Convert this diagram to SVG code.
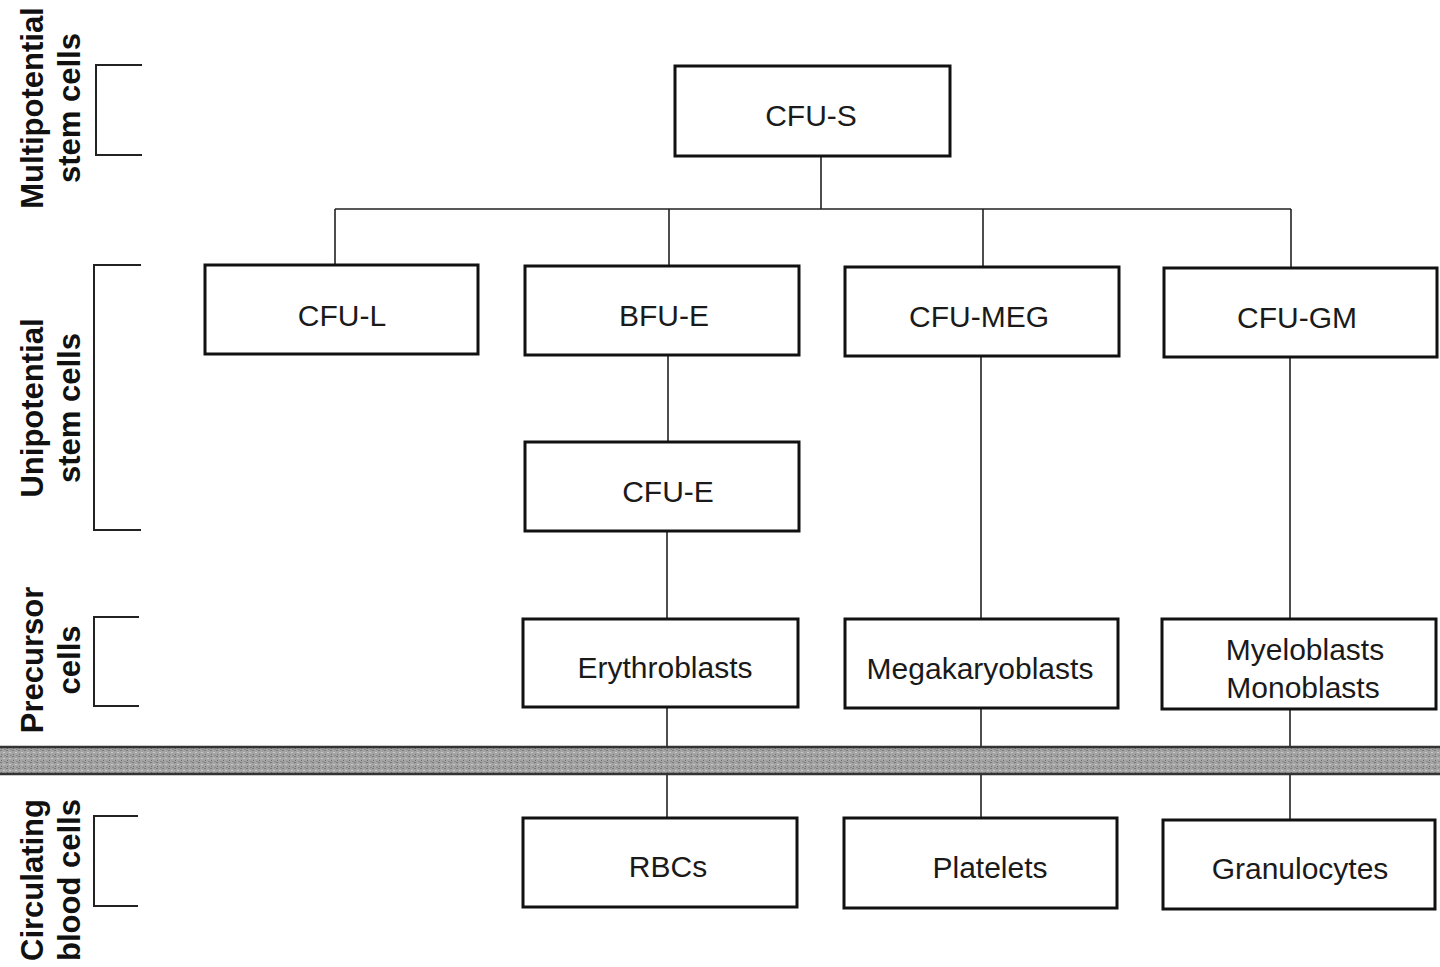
<svg xmlns="http://www.w3.org/2000/svg" width="1440" height="967" viewBox="0 0 1440 967">
<defs>
<pattern id="grain" width="6" height="6" patternUnits="userSpaceOnUse">
<rect width="6" height="6" fill="#a4a4a4"/>
<rect x="0" y="0" width="2" height="1" fill="#7a7a7a"/>
<rect x="3" y="2" width="2" height="1" fill="#c8c8c8"/>
<rect x="1" y="4" width="1" height="1" fill="#6e6e6e"/>
<rect x="4" y="5" width="2" height="1" fill="#8a8a8a"/>
</pattern>
</defs>
<style>
.box{fill:#fff;stroke:#111;stroke-width:3}
.lbl{font-family:"Liberation Sans",Arial,sans-serif;font-size:30px;fill:#1a1a1a;text-anchor:middle}
.side{font-family:"Liberation Sans",Arial,sans-serif;font-size:31px;font-weight:bold;fill:#111;text-anchor:middle}
.conn{fill:none;stroke:#222;stroke-width:1.6}
.brk{fill:none;stroke:#222;stroke-width:2}
</style>
<rect width="1440" height="967" fill="#fff"/>

<g id="connectors">
<path class="conn" d="M821 156V209M335 209H1291M335 209V265M669 209V266M983 209V267M1291 209V268"/>
<path class="conn" d="M668 355V442M667 531V619M667 707V818"/>
<path class="conn" d="M981 356V619M981 708V818"/>
<path class="conn" d="M1290 357V619M1290 709V820"/>
</g>

<g id="band">
<rect x="0" y="747" width="1440" height="27" fill="url(#grain)"/>
<line x1="0" y1="747" x2="1440" y2="747" stroke="#333" stroke-width="2.5"/>
<line x1="0" y1="774" x2="1440" y2="774" stroke="#333" stroke-width="2.5"/>
</g>

<g id="side-labels">
<g id="lbl-multi">
<text class="side" transform="translate(43 108) rotate(-90)">Multipotential</text>
<text class="side" transform="translate(80 108) rotate(-90)">stem cells</text>
<path class="brk" d="M142 65H96V155H142"/>
</g>
<g id="lbl-uni">
<text class="side" transform="translate(43 408) rotate(-90)">Unipotential</text>
<text class="side" transform="translate(80 408) rotate(-90)">stem cells</text>
<path class="brk" d="M141 265H94V530H141"/>
</g>
<g id="lbl-pre">
<text class="side" transform="translate(43 660) rotate(-90)">Precursor</text>
<text class="side" transform="translate(80 660) rotate(-90)">cells</text>
<path class="brk" d="M139 617H94V706H139"/>
</g>
<g id="lbl-circ">
<text class="side" transform="translate(43 880) rotate(-90)">Circulating</text>
<text class="side" transform="translate(80 880) rotate(-90)">blood cells</text>
<path class="brk" d="M138 816H94V906H138"/>
</g>
</g>

<g id="cfu-s"><rect class="box" x="675" y="66" width="275" height="90"/><text class="lbl" x="811" y="126">CFU-S</text></g>
<g id="cfu-l"><rect class="box" x="205" y="265" width="273" height="89"/><text class="lbl" x="342" y="326">CFU-L</text></g>
<g id="bfu-e"><rect class="box" x="525" y="266" width="274" height="89"/><text class="lbl" x="664" y="326">BFU-E</text></g>
<g id="cfu-meg"><rect class="box" x="845" y="267" width="274" height="89"/><text class="lbl" x="979" y="327">CFU-MEG</text></g>
<g id="cfu-gm"><rect class="box" x="1164" y="268" width="273" height="89"/><text class="lbl" x="1297" y="328">CFU-GM</text></g>
<g id="cfu-e"><rect class="box" x="525" y="442" width="274" height="89"/><text class="lbl" x="668" y="502">CFU-E</text></g>
<g id="erythroblasts"><rect class="box" x="523" y="619" width="275" height="88"/><text class="lbl" x="665" y="678">Erythroblasts</text></g>
<g id="megakaryoblasts"><rect class="box" x="845" y="619" width="273" height="89"/><text class="lbl" x="980" y="679">Megakaryoblasts</text></g>
<g id="myeloblasts"><rect class="box" x="1162" y="619" width="274" height="90"/><text class="lbl" x="1305" y="660">Myeloblasts</text><text class="lbl" x="1303" y="698">Monoblasts</text></g>
<g id="rbcs"><rect class="box" x="523" y="818" width="274" height="89"/><text class="lbl" x="668" y="877">RBCs</text></g>
<g id="platelets"><rect class="box" x="844" y="818" width="273" height="90"/><text class="lbl" x="990" y="878">Platelets</text></g>
<g id="granulocytes"><rect class="box" x="1163" y="820" width="272" height="89"/><text class="lbl" x="1300" y="879">Granulocytes</text></g>
</svg>
